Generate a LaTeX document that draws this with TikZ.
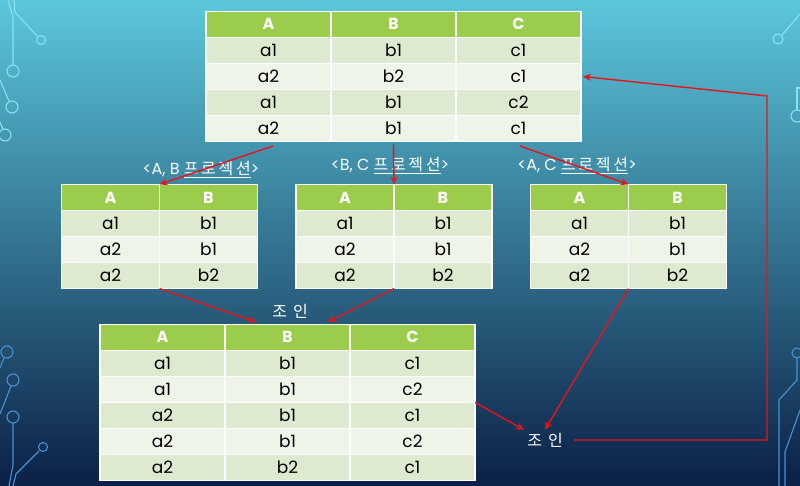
\documentclass[tikz,border=0pt]{standalone}
\usepackage{fontspec}
\setmainfont{Poppins}
\newfontfamily\kr{Noto Sans CJK KR}
\usetikzlibrary{matrix,arrows.meta}
\definecolor{hdrgreen}{HTML}{9CCC4C}
\definecolor{rowdark}{HTML}{DEEACF}
\definecolor{rowlight}{HTML}{EEF4E8}
\definecolor{linkred}{HTML}{E8141B}
\definecolor{wiretop}{HTML}{8AE2F0}
\definecolor{wirebot}{HTML}{4592D6}
\definecolor{bgtop}{HTML}{5CC7DB}
\definecolor{bgmid}{HTML}{3A9BC0}
\definecolor{bgbot}{HTML}{0B2046}
\tikzset{
  cell/.style={draw=white, line width=1.2pt, inner sep=0pt, outer sep=0pt,
    minimum height=26pt, text=black, font=\fontsize{17}{17}\selectfont},
  hdr/.style={fill=hdrgreen, text=white, font=\fontsize{16}{16}\selectfont\bfseries},
  tbl/.style={matrix of nodes, inner sep=0pt, outer sep=0pt,
    column sep=-1.2pt, row sep=-1.2pt,
    nodes={cell, minimum width=#1},
    row 1/.style={nodes={hdr}},
    row 2/.style={nodes={fill=rowdark}},
    row 3/.style={nodes={fill=rowlight}},
    row 4/.style={nodes={fill=rowdark}},
    row 5/.style={nodes={fill=rowlight}},
    row 6/.style={nodes={fill=rowdark}}},
  lbl/.style={text=white, inner sep=3pt, font=\fontsize{16}{16}\selectfont},
  joinlbl/.style={lbl, font=\kr\fontsize{16}{16}\selectfont},
  link/.style={draw=linkred, line width=1.4pt, -{Stealth[length=8pt,width=7pt]}},
  wireA/.style={draw=wiretop, line width=1.1pt},
  wireB/.style={draw=wirebot, line width=1.1pt}
}
\newcommand{\prj}{{\kr\underline{프\,로\,젝\,션}}}
\begin{document}
\begin{tikzpicture}[x=1pt, y=-1pt]
\shade[top color=bgtop, middle color=bgmid, bottom color=bgbot] (0,0) rectangle (800,486);
\useasboundingbox (0,0) rectangle (800,486);

\draw[wireA] (8,0) -- (13,17) -- (13,65);
\draw[wireA] (13,71) circle (6pt);
\draw[wireA] (14,0) -- (15,12) -- (37,36);
\draw[wireA] (41,40) circle (4.5pt);
\draw[wireA] (0,80) -- (9,101);
\draw[wireA] (12,107) circle (6pt);
\draw[wireA] (0,122) -- (3,129);
\draw[wireA] (5,135) circle (6pt);
\draw[wireA] (800,14) -- (782,35);
\draw[wireA] (778,39) circle (5pt);
\draw[wireA] (800,88) -- (797,88) -- (797,110);
\draw[wireA] (797,116) circle (6pt);
\draw[wireB] (7,352) circle (6pt);
\draw[wireB] (4,358) -- (0,368);
\draw[wireB] (13,380) circle (6pt);
\draw[wireB] (11,386) -- (0,414);
\draw[wireB] (13,417) circle (6pt);
\draw[wireB] (13,423) -- (13,465) -- (9,486);
\draw[wireB] (43,447) circle (4.5pt);
\draw[wireB] (39,451) -- (16,474) -- (13,486);
\draw[wireB] (797,353) circle (5pt);
\draw[wireB] (797,358) -- (797,380) -- (779,400) -- (779,486);
\draw[wireB] (800,410) -- (785,452) -- (785,486);

\matrix (abc) [tbl=125pt] at (393.5,76.5) {
A & B & C \\
a1 & b1 & c1 \\
a2 & b2 & c1 \\
a1 & b1 & c2 \\
a2 & b1 & c1 \\
};
\matrix (ab) [tbl=98pt] at (159.5,236.5) {
A & B \\
a1 & b1 \\
a2 & b1 \\
a2 & b2 \\
};
\matrix (bc) [tbl=98pt] at (394,236.5) {
A & B \\
a1 & b1 \\
a2 & b1 \\
a2 & b2 \\
};
\matrix (ac) [tbl=98pt] at (628.5,236.5) {
A & B \\
a1 & b1 \\
a2 & b1 \\
a2 & b2 \\
};
\matrix (joined) [tbl=125pt] at (287.5,402.5) {
A & B & C \\
a1 & b1 & c1 \\
a1 & b1 & c2 \\
a2 & b1 & c1 \\
a2 & b1 & c2 \\
a2 & b2 & c1 \\
};

\node[lbl] (prab) at (201,170) {<A, B \prj>};
\node[lbl] (prbc) at (390,166) {<B, C \prj>};
\node[lbl] (prac) at (577,166) {<A, C \prj>};
\node[joinlbl] (joinA) at (290,311) {조\hspace{6pt}인};
\node[joinlbl] (joinB) at (545,440) {조\hspace{6pt}인};

\coordinate (outab) at (273,146);
\coordinate (outac) at (520,146);
\coordinate (inl) at (256,322);
\coordinate (inr) at (328,322);
\coordinate (bend) at (767,96);

\draw[link] (outab) -- (ab-1-1.north east);
\draw[link] ([yshift=-2pt]abc-5-2.south) -- (bc-1-1.north east);
\draw[link] (outac) -- (ac-1-1.north east);
\draw[link] (ab-4-1.south east) -- (inl);
\draw[link] (bc-4-1.south east) -- (inr);
\draw[link] (ac-4-1.south east) -- (joinB.north);
\draw[link] (joined-3-3.south east) -- (joinB.north west);
\draw[link] ([xshift=8pt]joinB.east) -| (bend) -- ([xshift=2pt]abc-3-3.east);
\end{tikzpicture}
\end{document}
